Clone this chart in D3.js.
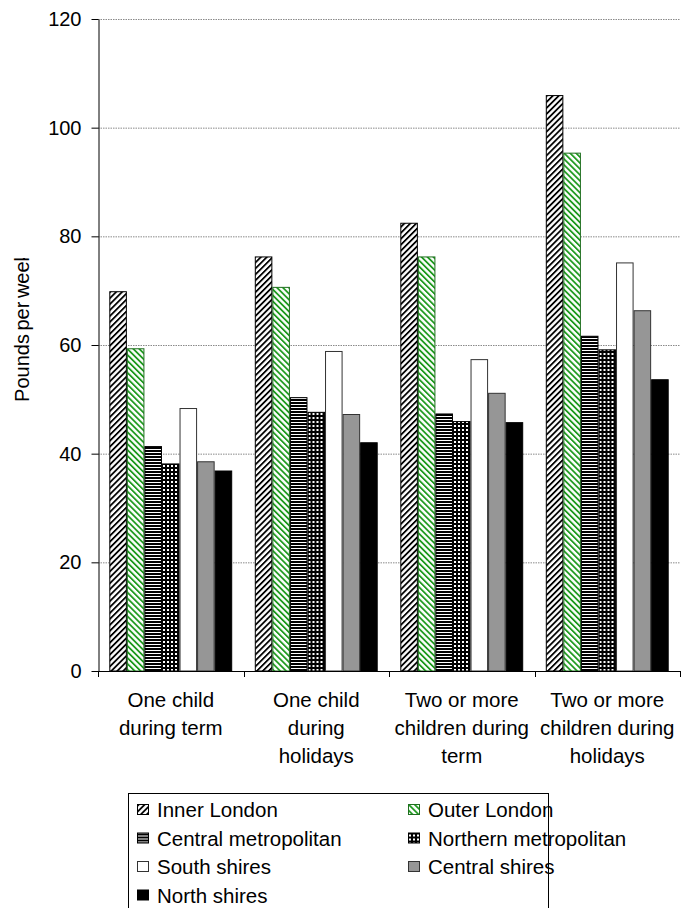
<!DOCTYPE html>
<html>
<head>
<meta charset="utf-8">
<script src="https://cdn.jsdelivr.net/npm/d3@7"></script>
<style>
  html, body { margin: 0; padding: 0; background: #fff; }
  svg { display: block; font-family: "Liberation Sans", Arial, sans-serif; }
</style>
</head>
<body>
<svg id="chart" width="683" height="908"></svg>
<script>
// Weekly childcare costs by region
const categories = [
  ["One child", "during term"],
  ["One child", "during", "holidays"],
  ["Two or more", "children during", "term"],
  ["Two or more", "children during", "holidays"]
];
const seriesNames = [
  "Inner London", "Outer London", "Central metropolitan", "Northern metropolitan",
  "South shires", "Central shires", "North shires"
];
const innerLondon   = [69.9, 76.3, 82.5, 106.0];
const outerLondon   = [59.4, 70.7, 76.3, 95.4];
const centralMetro  = [41.4, 50.4, 47.4, 61.7];
const northernMetro = [38.2, 47.7, 46.0, 59.2];
const southShires   = [48.4, 58.9, 57.4, 75.2];
const centralShires = [38.6, 47.3, 51.2, 66.4];
const northShires   = [36.9, 42.1, 45.8, 53.7];
const yTicks = [0, 20, 40, 60, 80, 100, 120];
const yTitle = "Pounds per week";

const seriesValues = [innerLondon, outerLondon, centralMetro, northernMetro,
                      southShires, centralShires, northShires];

const svg = d3.select("#chart");
const plot = { left: 98, right: 680, top: 19, bottom: 671 };
const font = "Liberation Sans, Arial, sans-serif";

// Fill patterns
const defs = svg.append("defs");
function stripes(id, color, angle, period, width) {
  const p = defs.append("pattern").attr("id", id)
    .attr("patternUnits", "userSpaceOnUse")
    .attr("width", period).attr("height", period)
    .attr("patternTransform", `rotate(${angle})`);
  p.append("rect").attr("width", period).attr("height", period).attr("fill", "#fff");
  p.append("rect").attr("width", width).attr("height", period).attr("fill", color);
}
stripes("pInner", "#000", 45, 4.2, 1.8);
stripes("pOuter", "#1f9a1f", -45, 4.2, 1.8);
// horizontal lines
(function () {
  const p = defs.append("pattern").attr("id", "pCentral")
    .attr("patternUnits", "userSpaceOnUse").attr("width", 4).attr("height", 3);
  p.append("rect").attr("width", 4).attr("height", 3).attr("fill", "#fff");
  p.append("rect").attr("width", 4).attr("height", 2).attr("fill", "#000");
})();
// grid with white holes
(function () {
  const p = defs.append("pattern").attr("id", "pNorthern")
    .attr("patternUnits", "userSpaceOnUse").attr("width", 4).attr("height", 4);
  p.append("rect").attr("width", 4).attr("height", 4).attr("fill", "#000");
  p.append("rect").attr("x", 1).attr("y", 1).attr("width", 2).attr("height", 2).attr("fill", "#fff");
})();

const fills = ["url(#pInner)", "url(#pOuter)", "url(#pCentral)", "url(#pNorthern)",
               "#ffffff", "#969696", "#000000"];
const strokes = ["#000", "#1f6f1f", "#000", "#000", "#333", "#333", "#000"];

const y = d3.scaleLinear().domain([0, 120]).range([plot.bottom, plot.top]);
const x0 = d3.scaleBand().domain(d3.range(categories.length))
  .range([plot.left, plot.right]).padding(0);
const x1 = d3.scaleBand().domain(d3.range(seriesNames.length))
  .range([11.3, x0.bandwidth() - 11.3]).padding(0);

// Gridlines
svg.append("g").selectAll("line").data(yTicks.filter(d => d > 0)).join("line")
  .attr("x1", plot.left).attr("x2", plot.right)
  .attr("y1", d => y(d) + 0.5).attr("y2", d => y(d) + 0.5)
  .attr("stroke", "#8a8a8a").attr("stroke-width", 1).attr("stroke-dasharray", "1.5,1");

// Bars
const groups = svg.append("g").selectAll("g").data(categories).join("g")
  .attr("transform", (d, i) => `translate(${x0(i)},0)`);
groups.selectAll("rect")
  .data((d, i) => seriesValues.map((s, j) => ({ s: j, v: s[i] })))
  .join("rect")
  .attr("x", d => x1(d.s) + 0.5)
  .attr("y", d => y(d.v) + 0.5)
  .attr("width", x1.bandwidth() - 1)
  .attr("height", d => y(0) - y(d.v) - 0.5)
  .attr("fill", d => fills[d.s])
  .attr("stroke", d => strokes[d.s])
  .attr("stroke-width", 1);

// Y axis
const yAxis = svg.append("g").attr("transform", `translate(${plot.left + 0.5},0)`)
  .call(d3.axisLeft(y).tickValues(yTicks).tickSize(7).tickPadding(10).tickSizeOuter(0));
yAxis.select(".domain").attr("stroke", "#000");
yAxis.selectAll(".tick line").attr("stroke", "#000");
yAxis.selectAll("text").attr("font-size", 20).attr("fill", "#000")
  .attr("font-family", font);

// X axis
const xg = svg.append("g");
xg.append("line").attr("x1", plot.left).attr("x2", plot.right)
  .attr("y1", plot.bottom + 0.5).attr("y2", plot.bottom + 0.5).attr("stroke", "#000");
xg.selectAll("line.tick").data(d3.range(categories.length + 1)).join("line")
  .attr("class", "tick")
  .attr("x1", i => Math.round(plot.left + i * x0.step()) + 0.5)
  .attr("x2", i => Math.round(plot.left + i * x0.step()) + 0.5)
  .attr("y1", plot.bottom).attr("y2", plot.bottom + 6).attr("stroke", "#000");
xg.selectAll("text").data(categories).join("text")
  .attr("x", (d, i) => x0(i) + x0.bandwidth() / 2)
  .attr("y", 707)
  .attr("text-anchor", "middle").attr("font-size", 20.5).attr("fill", "#000")
  .selectAll("tspan").data(d => d).join("tspan")
  .attr("x", function () { return d3.select(this.parentNode).attr("x"); })
  .attr("dy", (d, i) => i === 0 ? 0 : 28)
  .text(d => d);

// Y title: the top edge of the chart area cuts into the last letter
const titleClip = svg.append("clipPath").attr("id", "titleClip")
  .append("rect").attr("x", 0).attr("width", 60).attr("height", 300);
const title = svg.append("g").attr("clip-path", "url(#titleClip)")
  .append("text")
  .attr("text-anchor", "start").attr("font-size", 20).attr("fill", "#000")
  .attr("word-spacing", "-2px")
  .text(yTitle);
const cutTop = 258;
const lastStart = title.node().getStartPositionOfChar(yTitle.length - 1).x;
const titleBase = cutTop + lastStart + 3.4;
title.attr("transform", `translate(29,${titleBase}) rotate(-90)`);
titleClip.attr("y", cutTop);

// Legend
const legend = svg.append("g");
legend.append("rect").attr("x", 128.5).attr("y", 793.5).attr("width", 420).attr("height", 130)
  .attr("fill", "#fff").attr("stroke", "#000");
const items = legend.selectAll("g").data(seriesNames).join("g")
  .attr("transform", (d, i) => `translate(${i % 2 === 0 ? 137 : 408},${817 + Math.floor(i / 2) * 28.5})`);
items.append("rect").attr("x", 0.5).attr("y", -12.5).attr("width", 11).attr("height", 10)
  .attr("fill", (d, i) => fills[i]).attr("stroke", (d, i) => strokes[i]);
items.append("text").attr("x", 20).attr("y", 0).attr("font-size", 20.5).attr("fill", "#000")
  .text(d => d);
</script>
</body>
</html>
